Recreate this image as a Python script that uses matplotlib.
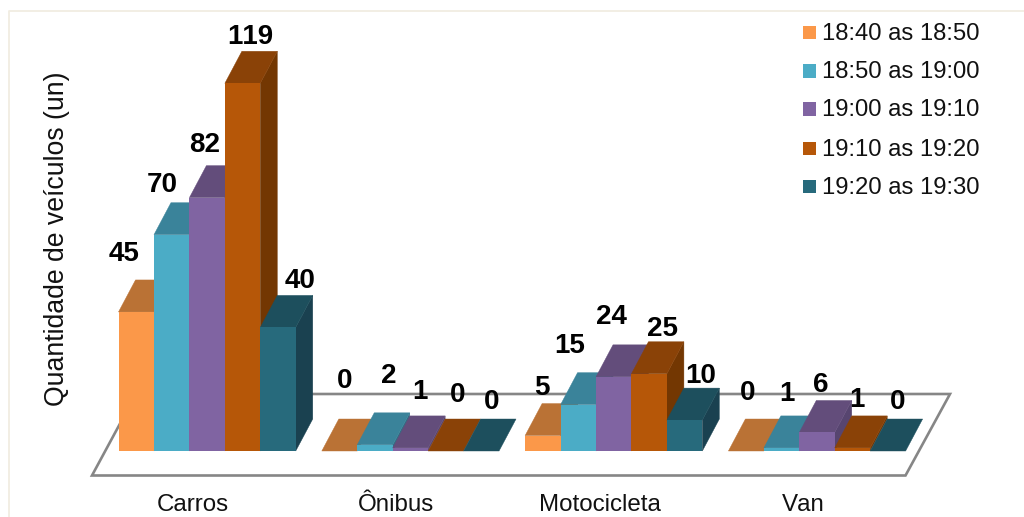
import matplotlib
matplotlib.use("Agg")
import matplotlib.pyplot as plt
from matplotlib.patches import Polygon, Rectangle

plt.rcParams['font.family'] = ['Liberation Sans', 'DejaVu Sans']
plt.rcParams['text.kerning_factor'] = 6

# chart values
categories = ["Carros", "Ônibus", "Motocicleta", "Van"]
periods = ["18:40 as 18:50", "18:50 as 19:00", "19:00 as 19:10", "19:10 as 19:20", "19:20 as 19:30"]
v_1840 = [45, 0, 5, 0]
v_1850 = [70, 2, 15, 1]
v_1900 = [82, 1, 24, 6]
v_1910 = [119, 0, 25, 1]
v_1920 = [40, 0, 10, 0]
series = [v_1840, v_1850, v_1900, v_1910, v_1920]

# colours of each series: front, top and side face
front_colors = ["#FB9849", "#4BACC6", "#8064A2", "#B65708", "#276A7C"]
top_colors = ["#BA7235", "#3A839A", "#634D7B", "#8A4207", "#1D4F5D"]
side_colors = ["#A3622C", "#2F7085", "#574570", "#733702", "#1A4150"]

# label offsets in pixels from the top centre of the front face (each group, each series)
label_offsets = [
    [(-12, 58), (-9, 50), (-3, 53), (8, 46), (22, 46)],
    [(5, 70), (14, 69), (10, 56), (12, 56), (10, 49)],
    [(-1, 48), (-9, 59), (-2, 60), (13, 45), (16, 44)],
    [(1, 58), (5, 54), (4, 47), (4, 48), (10, 49)],
]

# scale of the picture: one category step and one vehicle in pixels
W, H = 1024, 517
STEP_PX = 203.3
UNIT_PX = 3.09
X0_PX = 118.5
Y0_PX = 451
bar_w = 35.45 / STEP_PX
depth_x = 17 / STEP_PX
depth_y = 32 / UNIT_PX


def to_x(px):
    return (px - X0_PX) / STEP_PX


def to_y(py):
    return (Y0_PX - py) / UNIT_PX


fig = plt.figure(figsize=(W / 100, H / 100), dpi=100, facecolor="white")
ax = fig.add_axes([0, 0, 1, 1])
ax.set_xlim(to_x(0), to_x(W))
ax.set_ylim(to_y(H), to_y(0))
ax.axis("off")

# outer frame, only the top and left edges are in the picture
ax.plot([to_x(1024), to_x(8.5), to_x(8.5)], [to_y(11.5), to_y(11.5), to_y(517)],
        color="#F1EDE2", lw=1.3, zorder=1)

# floor of the 3D chart
floor = [(to_x(92), to_y(475.5)), (to_x(905.5), to_y(475.5)), (to_x(950), to_y(394)), (to_x(136), to_y(394))]
ax.add_patch(Polygon(floor, closed=True, facecolor="white", edgecolor="#868686", lw=1.9, zorder=2))

# bars, left to right so the next bar covers the side of the previous one
z = 3
for g in range(len(categories)):
    for s, values in enumerate(series):
        v = values[g]
        x = g + s * bar_w
        top = [(x, v), (x + bar_w, v), (x + bar_w + depth_x, v + depth_y), (x + depth_x, v + depth_y)]
        side = [(x + bar_w, 0), (x + bar_w + depth_x, depth_y), (x + bar_w + depth_x, v + depth_y), (x + bar_w, v)]
        if v > 0:
            ax.add_patch(Polygon(side, closed=True, facecolor=side_colors[s], edgecolor=side_colors[s], lw=0.3, zorder=z))
        ax.add_patch(Polygon(top, closed=True, facecolor=top_colors[s], edgecolor=top_colors[s], lw=0.3, zorder=z))
        ax.bar(x, v, width=bar_w, align="edge", color=front_colors[s], zorder=z + 1)
        z += 2

# value labels
for g in range(len(categories)):
    for s, values in enumerate(series):
        v = values[g]
        x = g + (s + 0.5) * bar_w
        dx, dy = label_offsets[g][s]
        ax.text(x + dx / STEP_PX, v + dy / UNIT_PX, str(v), ha="center", va="center",
                fontsize=20, fontweight="bold", color="black", zorder=200)

# category labels
for g, name in enumerate(categories):
    ax.text(g + 74.5 / STEP_PX, to_y(505), name, ha="center", va="center", fontsize=17.4, color="#111111", zorder=200)

# axis title
ax.text(to_x(57), to_y(239), "Quantidade de veículos (un)", rotation=90, ha="center", va="center",
        fontsize=19.2, color="#111111", zorder=200)

# legend
legend_y = [32.5, 71, 109, 148, 186]
for py, name, color in zip(legend_y, periods, front_colors):
    ax.add_patch(Rectangle((to_x(803), to_y(py + 6.5)), 13 / STEP_PX, 13 / UNIT_PX, facecolor=color, edgecolor="none", zorder=200))
    ax.text(to_x(822), to_y(py + 1.5), name, ha="left", va="center", fontsize=17.2, color="#111111", zorder=200)

fig.savefig("out.png", dpi=100)
